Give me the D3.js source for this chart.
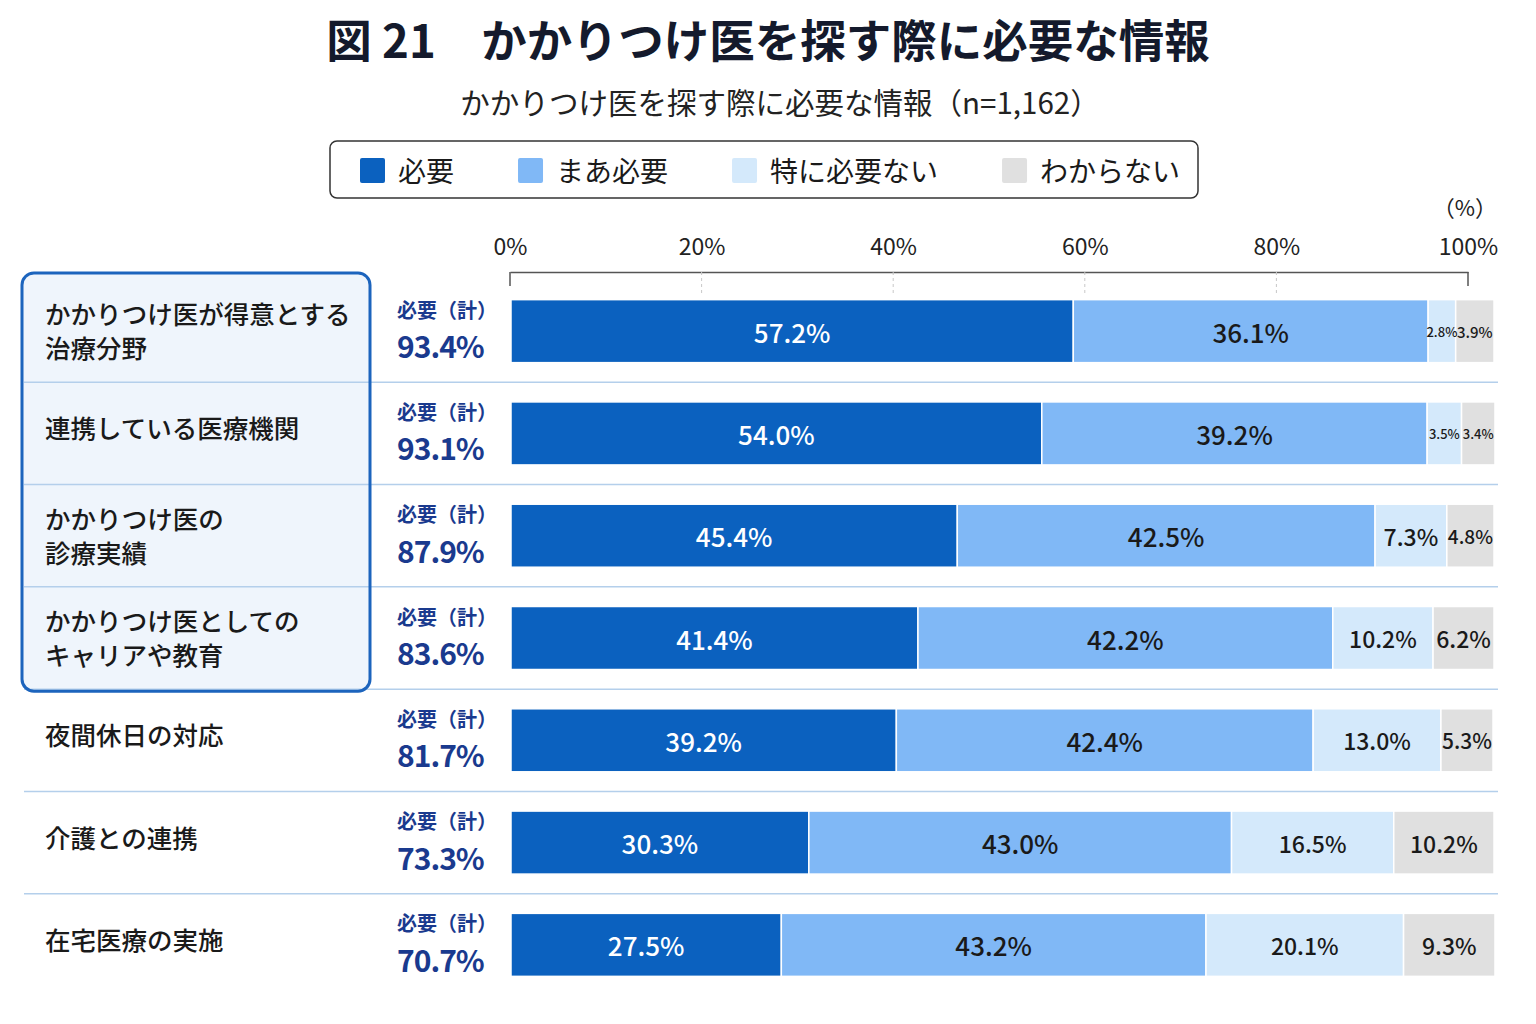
<!DOCTYPE html>
<html lang="ja">
<head>
<meta charset="utf-8">
<script src="https://cdn.jsdelivr.net/npm/d3@7"></script>
<style>
  html, body { margin: 0; padding: 0; background: #fff; }
  svg text { font-family: "Noto Sans CJK JP", "Noto Sans", sans-serif; }
</style>
</head>
<body>
<svg id="chart" width="1536" height="1024"></svg>
<script>
// data
var categories = [
  'かかりつけ医が得意とする\n治療分野',
  '連携している医療機関',
  'かかりつけ医の\n診療実績',
  'かかりつけ医としての\nキャリアや教育',
  '夜間休日の対応',
  '介護との連携',
  '在宅医療の実施'
];
var series = ['必要', 'まあ必要', '特に必要ない', 'わからない'];
var hitsuyou = [57.2, 54.0, 45.4, 41.4, 39.2, 30.3, 27.5];
var maaHitsuyou = [36.1, 39.2, 42.5, 42.2, 42.4, 43.0, 43.2];
var tokuniNai = [2.8, 3.5, 7.3, 10.2, 13.0, 16.5, 20.1];
var wakaranai = [3.9, 3.4, 4.8, 6.2, 5.3, 10.2, 9.3];
var totals = [93.4, 93.1, 87.9, 83.6, 81.7, 73.3, 70.7];
var tickValues = [0, 20, 40, 60, 80, 100];
var highlightCount = 4;

var colors = {
  '必要': '#0b61bf',
  'まあ必要': '#80b8f6',
  '特に必要ない': '#d4e9fb',
  'わからない': '#e0e0e0'
};
var navy = '#1a3a8e';

var table = categories.map(function (c, i) {
  return {
    index: i,
    name: c,
    '必要': hitsuyou[i],
    'まあ必要': maaHitsuyou[i],
    '特に必要ない': tokuniNai[i],
    'わからない': wakaranai[i]
  };
});

var svg = d3.select('#chart');

// titles
svg.append('text')
    .attr('x', 768)
    .attr('y', 38)
    .attr('text-anchor', 'middle')
    .attr('dominant-baseline', 'central')
    .attr('font-size', 45.5)
    .attr('font-weight', 700)
    .attr('fill', '#141a2c')
    .text('図 21\u3000かかりつけ医を探す際に必要な情報');

svg.append('text')
    .attr('x', 780)
    .attr('y', 101)
    .attr('text-anchor', 'middle')
    .attr('dominant-baseline', 'central')
    .attr('font-size', 29.5)
    .attr('fill', '#222')
    .text('かかりつけ医を探す際に必要な情報（n=1,162）');

// legend
var legend = svg.append('g');

legend.append('rect')
    .attr('x', 330)
    .attr('y', 141)
    .attr('width', 868)
    .attr('height', 57)
    .attr('rx', 7)
    .attr('fill', '#fff')
    .attr('stroke', '#333')
    .attr('stroke-width', 1.5);

var legendX = 360;
series.forEach(function (s) {
  var item = legend.append('g').attr('transform', 'translate(' + legendX + ',0)');
  item.append('rect')
      .attr('x', 0)
      .attr('y', 158)
      .attr('width', 25)
      .attr('height', 25)
      .attr('rx', 2)
      .attr('fill', colors[s]);
  var t = item.append('text')
      .attr('x', 38)
      .attr('y', 170)
      .attr('dominant-baseline', 'central')
      .attr('font-size', 28)
      .attr('fill', '#1a1a1a')
      .text(s);
  legendX += 38 + t.node().getComputedTextLength() + 64;
});

// scales
var y = d3.scaleBand()
    .domain(d3.range(categories.length))
    .range([280, 996]);

var xAxisScale = d3.scaleLinear()
    .domain([0, 100])
    .range([510, 1468]);

var xBar = d3.scaleLinear()
    .domain([0, 100])
    .range([511, 1494]);

var barHeight = 63;

function center(i) { return y(i) + y.bandwidth() / 2; }

// highlight box (fill)
var boxTop = y(0) - 7;
var boxBottom = y(highlightCount - 1) + y.step() + 2;

svg.append('rect')
    .attr('x', 22)
    .attr('y', boxTop)
    .attr('width', 348)
    .attr('height', boxBottom - boxTop)
    .attr('rx', 12)
    .attr('fill', '#eff5fc');

// row separators
svg.append('g')
  .selectAll('line')
    .data(d3.range(categories.length - 1))
    .enter()
  .append('line')
    .attr('x1', 24)
    .attr('x2', 1498)
    .attr('y1', function (i) { return y(i) + y.step(); })
    .attr('y2', function (i) { return y(i) + y.step(); })
    .attr('stroke', '#b4cfeb')
    .attr('stroke-width', 1.5);

// highlight box (outline)
svg.append('rect')
    .attr('x', 22)
    .attr('y', boxTop)
    .attr('width', 348)
    .attr('height', boxBottom - boxTop)
    .attr('rx', 12)
    .attr('fill', 'none')
    .attr('stroke', '#1c64bd')
    .attr('stroke-width', 3);

// axis
var xAxis = d3.axisTop(xAxisScale)
    .tickValues(tickValues)
    .tickFormat(function (d) { return d + '%'; })
    .tickSize(0)
    .tickPadding(17);

var axisG = svg.append('g')
    .attr('transform', 'translate(0,272)')
    .call(xAxis);

axisG.select('.domain')
    .attr('stroke', '#555')
    .attr('stroke-width', 1.5);

axisG.selectAll('.tick text')
    .attr('font-size', 23)
    .attr('fill', '#222')
    .style('font-family', '"Noto Sans CJK JP", "Noto Sans", sans-serif');

axisG.selectAll('.grid')
    .data(tickValues)
    .enter()
  .append('line')
    .attr('x1', function (d) { return xAxisScale(d); })
    .attr('x2', function (d) { return xAxisScale(d); })
    .attr('y1', 0)
    .attr('y2', function (d) { return (d === 0 || d === 100) ? 14 : 24; })
    .attr('stroke', function (d) { return (d === 0 || d === 100) ? '#555' : '#c8c8c8'; })
    .attr('stroke-width', function (d) { return (d === 0 || d === 100) ? 1.5 : 1; })
    .attr('stroke-dasharray', function (d) { return (d === 0 || d === 100) ? null : '3,3'; });

svg.append('text')
    .attr('x', 1497)
    .attr('y', 206)
    .attr('text-anchor', 'end')
    .attr('dominant-baseline', 'central')
    .attr('font-size', 22)
    .attr('fill', '#222')
    .text('（%）');

// category labels
var labels = svg.append('g')
  .selectAll('text')
    .data(table)
    .enter()
  .append('text')
    .attr('x', 45)
    .attr('font-size', 25.5)
    .attr('font-weight', 500)
    .attr('fill', '#1a1a1a')
    .attr('dominant-baseline', 'central');

labels.each(function (d) {
  var lines = d.name.split('\n');
  var c = center(d.index);
  var sel = d3.select(this);
  lines.forEach(function (line, k) {
    var yy = lines.length === 1 ? c - 7 : c - 19 + k * 34;
    sel.append('tspan')
        .attr('x', 45)
        .attr('y', yy)
        .text(line);
  });
});

// totals
var totalG = svg.append('g')
  .selectAll('g')
    .data(table)
    .enter()
  .append('g');

totalG.append('text')
    .attr('x', 397)
    .attr('y', function (d) { return center(d.index) - 22; })
    .attr('dominant-baseline', 'central')
    .attr('font-size', 20)
    .attr('font-weight', 700)
    .attr('fill', navy)
    .text('必要（計）');

totalG.append('text')
    .attr('x', 397)
    .attr('y', function (d) { return center(d.index) + 14; })
    .attr('dominant-baseline', 'central')
    .attr('font-size', 30)
    .attr('font-weight', 700)
    .attr('letter-spacing', -1)
    .attr('fill', navy)
    .text(function (d) { return totals[d.index].toFixed(1) + '%'; });

// stacked bars
var stacked = d3.stack().keys(series)(table);

var layer = svg.append('g')
  .selectAll('g')
    .data(stacked)
    .enter()
  .append('g')
    .attr('fill', function (d) { return colors[d.key]; });

layer.selectAll('rect')
    .data(function (d) { return d; })
    .enter()
  .append('rect')
    .attr('x', function (d) { return xBar(d[0]); })
    .attr('y', function (d) { return center(d.data.index) - barHeight / 2; })
    .attr('width', function (d) { return xBar(d[1]) - xBar(d[0]); })
    .attr('height', barHeight)
    .attr('stroke', '#fff')
    .attr('stroke-width', 1.5);

stacked.forEach(function (s, si) {
  svg.append('g')
    .selectAll('text')
      .data(s)
      .enter()
    .append('text')
      .attr('x', function (d) { return (xBar(d[0]) + xBar(d[1])) / 2; })
      .attr('y', function (d) { return center(d.data.index); })
      .attr('text-anchor', 'middle')
      .attr('dominant-baseline', 'central')
      .attr('font-size', si < 2 ? 26 : 23)
      .attr('font-weight', 500)
      .attr('fill', si === 0 ? '#fff' : '#1a1a1a')
      .text(function (d) { return d.data[s.key].toFixed(1) + '%'; })
      .each(function (d) {
        var w = xBar(d[1]) - xBar(d[0]) - 2;
        var t = d3.select(this);
        var size = +t.attr('font-size');
        while (this.getComputedTextLength() > w && size > 13) {
          size -= 1;
          t.attr('font-size', size);
        }
      });
});
</script>
</body>
</html>
